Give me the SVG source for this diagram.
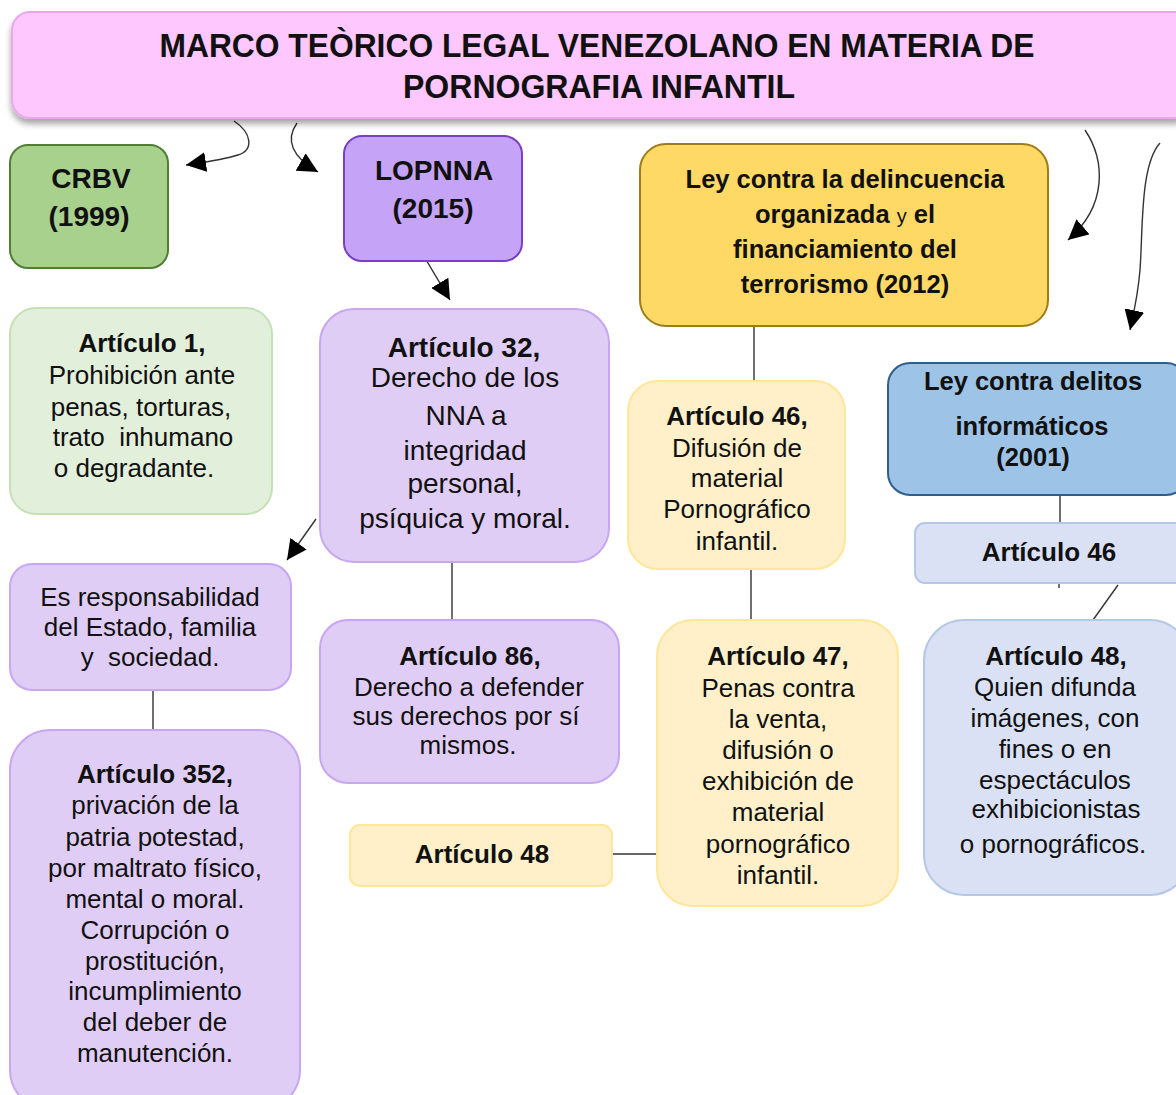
<svg xmlns="http://www.w3.org/2000/svg" width="1176" height="1095" viewBox="0 0 1176 1095">
<defs>
<filter id="sh" x="-5%" y="-20%" width="110%" height="150%"><feDropShadow dx="0" dy="5" stdDeviation="3" flood-color="#000" flood-opacity="0.35"/></filter>
<marker id="ah" markerUnits="userSpaceOnUse" markerWidth="22" markerHeight="20" refX="20" refY="10" orient="auto"><path d="M0,0 L20,10 L0,20 Z" fill="#000"/></marker>
<style>
text{font-family:"Liberation Sans",Arial,sans-serif;fill:#111;text-anchor:middle}
.b{font-weight:bold}
.t{font-size:26px}
.t28{font-size:28px}
.h{font-size:28px;font-weight:bold}
.hb{font-size:25.5px;font-weight:bold}
.c{fill:none;stroke:#333;stroke-width:1.4}
.lav{fill:#e0cdf5;stroke:#c8a6f2;stroke-width:2}
.ly{fill:#fff0c9;stroke:#ffe699;stroke-width:2}
.lb{fill:#dae1f5;stroke:#b4c7e7;stroke-width:2}
</style>
</defs>
<rect width="1176" height="1095" fill="#fff"/>

<g id="connectors">
<path class="c" d="M234,121 C252,133 254,150 238,155 C222,160 206,162 186,165" marker-end="url(#ah)"/>
<path class="c" d="M297,123 C285,140 292,157 318,172" marker-end="url(#ah)"/>
<path class="c" d="M422,253 L450,300" marker-end="url(#ah)"/>
<path class="c" d="M316,519 L287,560" marker-end="url(#ah)"/>
<path class="c" d="M1085,130 C1105,160 1108,205 1068,240" marker-end="url(#ah)"/>
<path class="c" d="M1160,143 C1140,165 1143,230 1140,270 C1138,295 1134,312 1130,330" marker-end="url(#ah)"/>
<path class="c" d="M754,326 L754,381"/>
<path class="c" d="M751,569 L751,620"/>
<path class="c" d="M452,562 L452,620"/>
<path class="c" d="M153,690 L153,730"/>
<path class="c" d="M612,854 L657,854"/>
<path class="c" d="M1060,495 L1060,523"/>
<path class="c" d="M1059,583 L1059,588"/>
<path class="c" d="M1118,585 L1093,620"/>
</g>

<g id="title">
<rect x="12" y="12" width="1180" height="106" rx="18" fill="#fec7fe" stroke="#e9a9e9" stroke-width="2" filter="url(#sh)"/>
<text class="b" x="597" y="57" font-size="33" textLength="875" lengthAdjust="spacingAndGlyphs">MARCO TEÒRICO LEGAL VENEZOLANO EN MATERIA DE</text>
<text class="b" x="599" y="98" font-size="33" textLength="392" lengthAdjust="spacingAndGlyphs">PORNOGRAFIA INFANTIL</text>
</g>

<g id="crbv">
<rect x="10" y="145" width="158" height="123" rx="18" fill="#a9d18e" stroke="#507e32" stroke-width="2"/>
<text class="h" x="91" y="188">CRBV</text>
<text class="h" x="89" y="226">(1999)</text>
</g>

<g id="lopnna">
<rect x="344" y="136" width="178" height="125" rx="18" fill="#c5a3f7" stroke="#7a3fc4" stroke-width="2"/>
<text class="h" x="434" y="180">LOPNNA</text>
<text class="h" x="433" y="218">(2015)</text>
</g>

<g id="ley-delincuencia">
<rect x="640" y="144" width="408" height="182" rx="26" fill="#ffd966" stroke="#9c7d1a" stroke-width="2"/>
<text class="hb" x="845" y="188">Ley contra la delincuencia</text>
<text class="hb" x="845" y="223">organizada <tspan font-weight="normal" font-size="20">y</tspan> el</text>
<text class="hb" x="845" y="258">financiamiento del</text>
<text class="hb" x="845" y="293">terrorismo (2012)</text>
</g>

<g id="ley-delitos">
<rect x="888" y="363" width="300" height="132" rx="22" fill="#9dc3e6" stroke="#2f5d8c" stroke-width="2"/>
<text class="hb" x="1033" y="390">Ley contra delitos</text>
<text class="hb" x="1032" y="435">informáticos</text>
<text class="hb" x="1033" y="466">(2001)</text>
</g>

<g id="art1">
<rect x="10" y="308" width="262" height="206" rx="26" fill="#e2efda" stroke="#c5e0b4" stroke-width="2"/>
<text class="t b" x="142" y="352">Artículo 1,</text>
<text class="t" x="142" y="384">Prohibición ante</text>
<text class="t" x="141" y="416">penas, torturas,</text>
<text class="t" x="143" y="446" xml:space="preserve">trato  inhumano</text>
<text class="t" x="134" y="477">o degradante.</text>
</g>

<g id="art32">
<rect class="lav" x="320" y="309" width="289" height="253" rx="34"/>
<text class="t28 b" x="464" y="357">Artículo 32,</text>
<text class="t28" x="465" y="387">Derecho de los</text>
<text class="t28" x="466" y="425">NNA a</text>
<text class="t28" x="465" y="460">integridad</text>
<text class="t28" x="465" y="493">personal,</text>
<text class="t28" x="465" y="528">psíquica y moral.</text>
</g>

<g id="art46-y">
<rect class="ly" x="628" y="381" width="217" height="188" rx="30"/>
<text class="t b" x="737" y="425">Artículo 46,</text>
<text class="t" x="737" y="457">Difusión de</text>
<text class="t" x="737" y="487">material</text>
<text class="t" x="737" y="518">Pornográfico</text>
<text class="t" x="737" y="550">infantil.</text>
</g>

<g id="art46-b">
<rect class="lb" x="915" y="523" width="275" height="60" rx="10"/>
<text class="t b" x="1049" y="561">Artículo 46</text>
</g>

<g id="responsabilidad">
<rect class="lav" x="10" y="564" width="281" height="126" rx="22"/>
<text class="t" x="150" y="606">Es responsabilidad</text>
<text class="t" x="150" y="636">del Estado, familia</text>
<text class="t" x="150" y="666" xml:space="preserve">y  sociedad.</text>
</g>

<g id="art352">
<rect class="lav" x="10" y="730" width="290" height="380" rx="40"/>
<text class="t b" x="155" y="783">Artículo 352,</text>
<text class="t" x="155" y="814">privación de la</text>
<text class="t" x="155" y="846">patria potestad,</text>
<text class="t" x="155" y="877">por maltrato físico,</text>
<text class="t" x="155" y="908">mental o moral.</text>
<text class="t" x="155" y="939">Corrupción o</text>
<text class="t" x="155" y="970">prostitución,</text>
<text class="t" x="155" y="1000">incumplimiento</text>
<text class="t" x="155" y="1031">del deber de</text>
<text class="t" x="155" y="1062">manutención.</text>
</g>

<g id="art86">
<rect class="lav" x="320" y="620" width="299" height="163" rx="28"/>
<text class="t b" x="470" y="665">Artículo 86,</text>
<text class="t" x="469" y="696">Derecho a defender</text>
<text class="t" x="466" y="725">sus derechos por sí</text>
<text class="t" x="468" y="754">mismos.</text>
</g>

<g id="art48-y">
<rect class="ly" x="350" y="825" width="262" height="61" rx="10"/>
<text class="t b" x="482" y="863">Artículo 48</text>
</g>

<g id="art47">
<rect class="ly" x="657" y="620" width="241" height="286" rx="36"/>
<text class="t b" x="778" y="665">Artículo 47,</text>
<text class="t" x="778" y="697">Penas contra</text>
<text class="t" x="778" y="728">la venta,</text>
<text class="t" x="778" y="759">difusión o</text>
<text class="t" x="778" y="790">exhibición de</text>
<text class="t" x="778" y="821">material</text>
<text class="t" x="778" y="853">pornográfico</text>
<text class="t" x="778" y="884">infantil.</text>
</g>

<g id="art48-b">
<rect class="lb" x="924" y="620" width="266" height="275" rx="40"/>
<text class="t b" x="1056" y="665">Artículo 48,</text>
<text class="t" x="1055" y="696">Quien difunda</text>
<text class="t" x="1055" y="727">imágenes, con</text>
<text class="t" x="1055" y="758">fines o en</text>
<text class="t" x="1055" y="789">espectáculos</text>
<text class="t" x="1056" y="818">exhibicionistas</text>
<text class="t" x="1053" y="853">o pornográficos.</text>
</g>
</svg>
